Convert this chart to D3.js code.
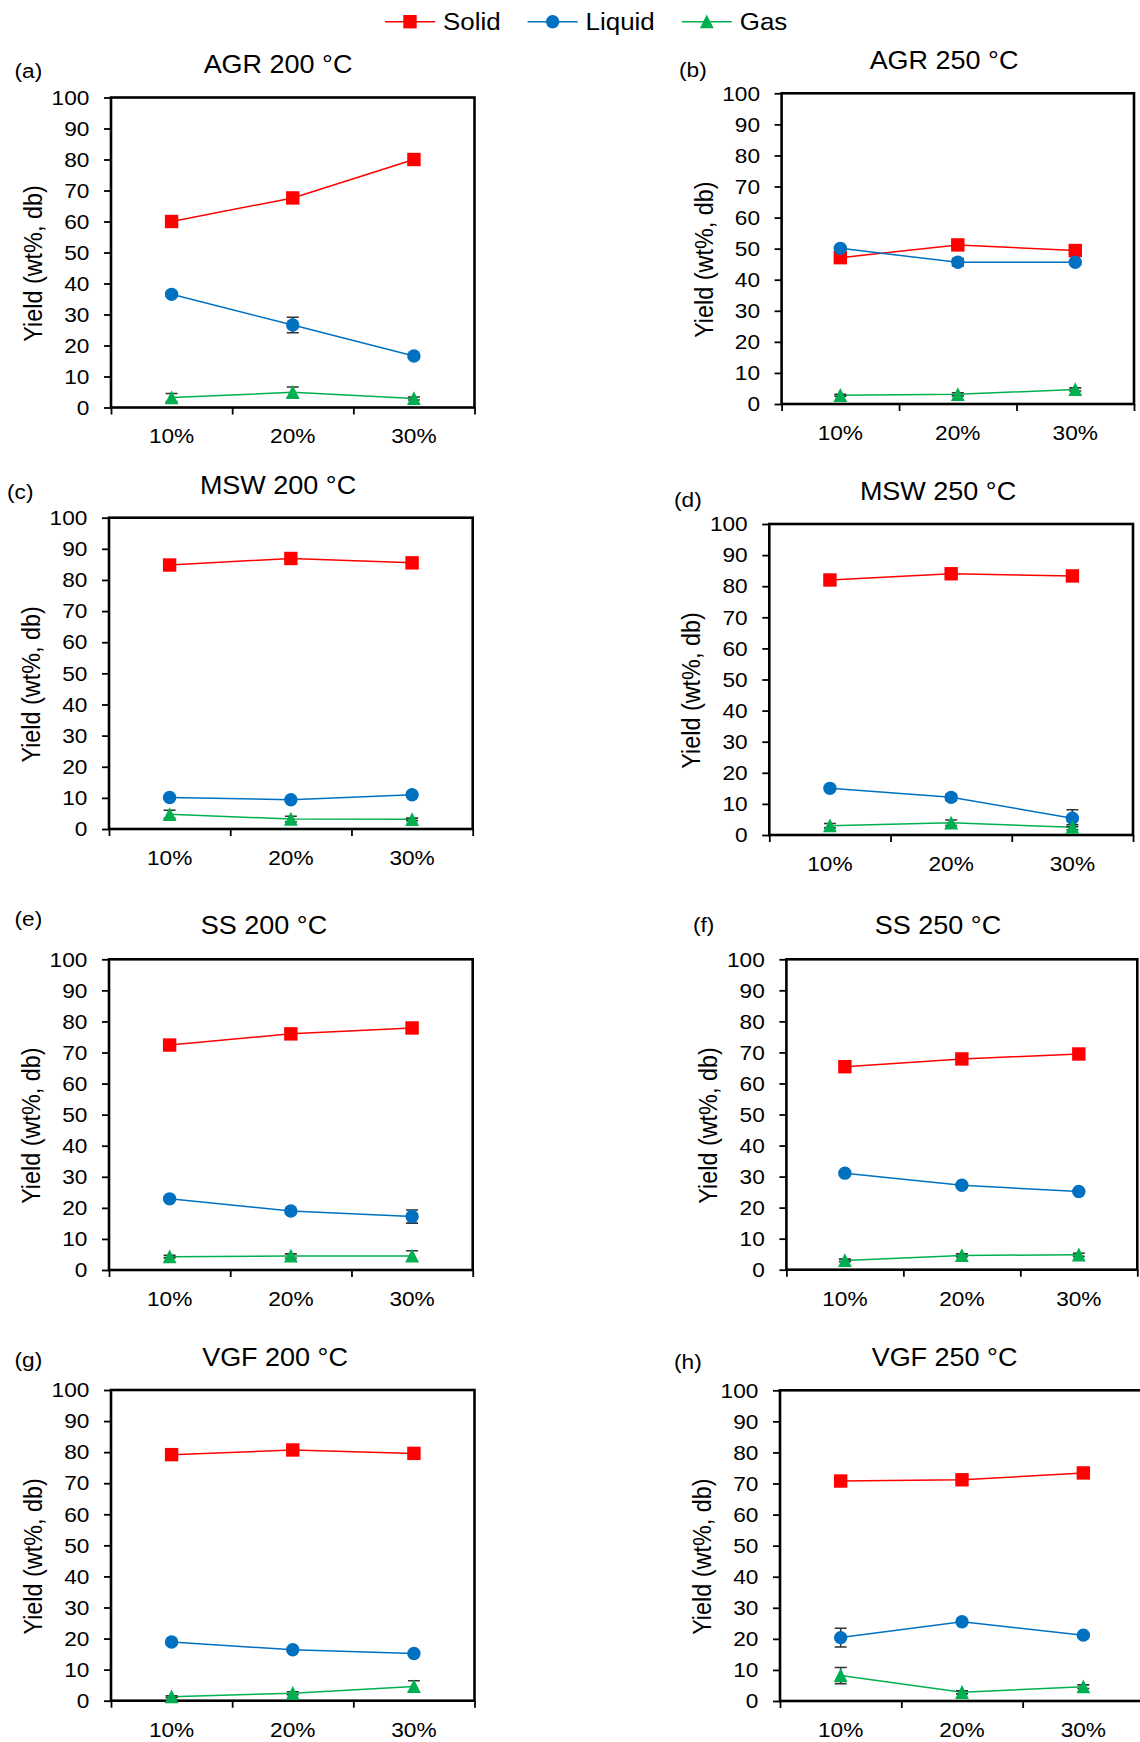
<!DOCTYPE html>
<html>
<head>
<meta charset="utf-8">
<style>
body { margin: 0; background: #fff; }
svg { display: block; }
text { font-family: "Liberation Sans", Arial, sans-serif; fill: #000; }
</style>
</head>
<body>
<svg width="1140" height="1742"></svg>
<script src="https://d3js.org/d3.v7.min.js"></script>
<script>

var categories = ["10%", "20%", "30%"],
    seriesNames = ["Solid", "Liquid", "Gas"],
    seriesColors = ["#ff0000", "#0070c0", "#00b050"],
    yTicks = d3.range(0, 101, 10);

// yields (wt%, db); rows are Solid, Liquid, Gas
var agr200 = [[60.0, 67.6, 80.0], [36.5, 26.6, 16.6], [3.2, 4.9, 2.9]],
    agr200Err = [[0.5, 0.5, 0.5], [0.6, 2.5, 0.5], [1.3, 1.7, 0.5]];
var agr250 = [[47.1, 51.2, 49.4], [50.1, 45.6, 45.6], [2.8, 3.1, 4.7]],
    agr250Err = [[0.5, 0.5, 0.5], [0.5, 1.2, 0.5], [0.3, 0.5, 0.5]];
var msw200 = [[84.8, 86.9, 85.5], [10.1, 9.4, 11.0], [4.7, 3.2, 3.1]],
    msw200Err = [[0.5, 0.5, 0.5], [0.5, 0.5, 0.5], [1.3, 0.9, 0.4]];
var msw250 = [[82.0, 84.0, 83.3], [15.0, 12.1, 5.4], [3.0, 3.9, 2.5]],
    msw250Err = [[0.5, 0.5, 0.5], [0.5, 1.0, 2.7], [0.7, 0.9, 0.8]];
var ss200 = [[72.4, 76.0, 77.9], [22.9, 19.0, 17.2], [4.3, 4.5, 4.5]],
    ss200Err = [[0.5, 0.5, 0.5], [0.5, 0.5, 2.1], [0.4, 0.7, 1.7]];
var ss250 = [[65.4, 67.9, 69.5], [31.1, 27.2, 25.2], [3.0, 4.6, 4.8]],
    ss250Err = [[0.5, 0.5, 0.5], [0.5, 0.5, 0.5], [0.4, 0.5, 0.5]];
var vgf200 = [[79.2, 80.7, 79.6], [18.9, 16.4, 15.2], [1.3, 2.4, 4.6]],
    vgf200Err = [[0.5, 0.5, 0.5], [0.5, 0.5, 0.5], [0.3, 0.5, 1.8]];
var vgf250 = [[70.8, 71.2, 73.4], [20.4, 25.5, 21.2], [8.2, 2.8, 4.6]],
    vgf250Err = [[0.5, 0.5, 0.5], [3.0, 0.5, 0.5], [2.6, 0.5, 0.6]];

// where each panel sits on the page
var panels = [
  {tag: "(a)", title: "AGR 200 °C", data: agr200, err: agr200Err, x0: 111, x1: 474.5, y0: 97.5, y1: 407.5, tx: 278, ty: 72.7, lx: 14.5, ly: 78},
  {tag: "(b)", title: "AGR 250 °C", data: agr250, err: agr250Err, x0: 781.6, x1: 1134, y0: 93.3, y1: 404, tx: 944, ty: 69, lx: 679, ly: 77},
  {tag: "(c)", title: "MSW 200 °C", data: msw200, err: msw200Err, x0: 109, x1: 472.7, y0: 517.7, y1: 829, tx: 278, ty: 494.3, lx: 7, ly: 499},
  {tag: "(d)", title: "MSW 250 °C", data: msw250, err: msw250Err, x0: 769.3, x1: 1133, y0: 524, y1: 835, tx: 938, ty: 500, lx: 674, ly: 507},
  {tag: "(e)", title: "SS 200 °C", data: ss200, err: ss200Err, x0: 109, x1: 472.7, y0: 959.3, y1: 1270, tx: 264, ty: 934.3, lx: 14.5, ly: 925.5},
  {tag: "(f)", title: "SS 250 °C", data: ss250, err: ss250Err, x0: 786.4, x1: 1137.3, y0: 959.3, y1: 1269.7, tx: 938, ty: 934.3, lx: 693, ly: 932},
  {tag: "(g)", title: "VGF 200 °C", data: vgf200, err: vgf200Err, x0: 111, x1: 474.5, y0: 1390, y1: 1700.7, tx: 275, ty: 1365.7, lx: 14.5, ly: 1367},
  {tag: "(h)", title: "VGF 250 °C", data: vgf250, err: vgf250Err, x0: 780, x1: 1144, y0: 1390.3, y1: 1701, tx: 944.5, ty: 1365.7, lx: 674, ly: 1369}
];

var svg = d3.select("svg");
var sx = 1.08; // source figure is slightly stretched sideways

function label(g, x, y, str, size, anchor) {
  return g.append("text")
      .attr("transform", "translate(" + x + "," + y + ") scale(" + sx + ",1)")
      .attr("text-anchor", anchor || "start")
      .style("font-size", size + "px")
      .text(str);
}

function marker(sel, k, color) {
  if (k === 0) {
    sel.append("rect").attr("x", -6.7).attr("y", -6.7).attr("width", 13.4).attr("height", 13.4).attr("fill", color);
  } else if (k === 1) {
    sel.append("circle").attr("r", 6.7).attr("fill", color);
  } else {
    sel.append("path").attr("d", "M0,-7.2L6.9,6.6L-6.9,6.6Z").attr("fill", color);
  }
}

panels.forEach(function(p) {
  var g = svg.append("g");

  var y = d3.scaleLinear().domain([0, 100]).range([p.y1, p.y0]),
      x = d3.scaleBand().domain(categories).range([p.x0, p.x1]),
      xb = d3.scaleLinear().domain([0, categories.length]).range([p.x0, p.x1]);
  var cx = function(i) { return x(categories[i]) + x.bandwidth() / 2; };

  var ya = g.append("g")
      .attr("transform", "translate(" + p.x0 + ",0)")
      .call(d3.axisLeft(y).tickValues(yTicks).tickSize(7).tickPadding(13));
  ya.select(".domain").remove();
  ya.selectAll("line").attr("stroke", "#000").attr("stroke-width", 1.8);
  ya.selectAll("text").attr("fill", "#000").style("font-size", "21px")
      .attr("transform", "scale(" + sx + ",1)");

  var xt = g.append("g")
      .attr("transform", "translate(0," + p.y1 + ")")
      .call(d3.axisBottom(xb).tickValues(d3.range(categories.length + 1)).tickSize(7).tickFormat(""));
  xt.select(".domain").remove();
  xt.selectAll("line").attr("stroke", "#000").attr("stroke-width", 1.8);

  var xa = g.append("g")
      .attr("transform", "translate(0," + p.y1 + ")")
      .call(d3.axisBottom(x).tickSize(0).tickPadding(21));
  xa.select(".domain").remove();
  xa.selectAll("text").attr("fill", "#000").style("font-size", "21px")
      .attr("transform", "scale(" + sx + ",1)");

  g.append("rect")
      .attr("x", p.x0).attr("y", p.y0)
      .attr("width", p.x1 - p.x0).attr("height", p.y1 - p.y0)
      .attr("fill", "none").attr("stroke", "#000").attr("stroke-width", 2.6);

  g.append("text")
      .attr("transform", "translate(" + (p.x0 - 69) + "," + ((p.y0 + p.y1) / 2 + 11) + ") scale(" + sx + ",1) rotate(-90)")
      .attr("text-anchor", "middle")
      .style("font-size", "23.4px")
      .text("Yield (wt%, db)");

  label(g, p.tx, p.ty, p.title, 25, "middle");
  label(g, p.lx, p.ly, p.tag, 21, "start");

  var line = d3.line()
      .x(function(d, i) { return cx(i); })
      .y(function(d) { return y(d); });

  p.data.forEach(function(vals, k) {
    g.append("path")
        .attr("d", line(vals))
        .attr("fill", "none")
        .attr("stroke", seriesColors[k])
        .attr("stroke-width", 1.5);
  });

  p.data.forEach(function(vals, k) {
    vals.forEach(function(v, i) {
      var e = p.err[k][i], a = y(v + e), b = y(v - e), c = cx(i);
      g.append("path")
          .attr("d", "M" + c + "," + a + "V" + b + "M" + (c - 6) + "," + a + "H" + (c + 6) + "M" + (c - 6) + "," + b + "H" + (c + 6))
          .attr("fill", "none")
          .attr("stroke", "#333")
          .attr("stroke-width", 1.6);
    });
  });

  p.data.forEach(function(vals, k) {
    vals.forEach(function(v, i) {
      var m = g.append("g").attr("transform", "translate(" + cx(i) + "," + y(v) + ")");
      marker(m, k, seriesColors[k]);
    });
  });
});

// legend across the top
var lx = 385;
seriesNames.forEach(function(name, k) {
  var lg = svg.append("g");
  lg.append("line")
      .attr("x1", lx).attr("x2", lx + 50)
      .attr("y1", 21.7).attr("y2", 21.7)
      .attr("stroke", seriesColors[k]).attr("stroke-width", 1.5);
  var m = lg.append("g").attr("transform", "translate(" + (lx + 25) + ",21.7)");
  marker(m, k, seriesColors[k]);
  var t = label(lg, lx + 58, 30, name, 24, "start");
  lx += 58 + t.node().getComputedTextLength() * sx + 27;
});

</script>
</body>
</html>
